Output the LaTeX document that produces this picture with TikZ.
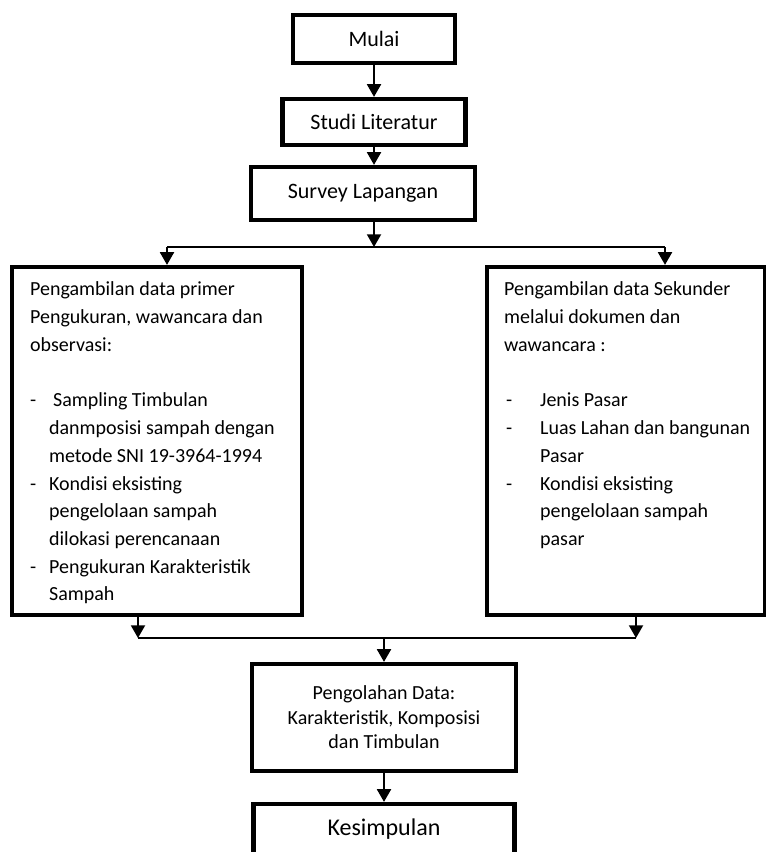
\documentclass[tikz,border=0pt]{standalone}
\usepackage{fontspec}
\setmainfont{Carlito}
\usetikzlibrary{arrows.meta, positioning}
\tikzset{
  stepbox/.style = {rectangle, draw=black, line width=3.2pt, inner sep=0pt, align=center, font=\fontsize{16.5pt}{19.8pt}\selectfont},
  databox/.style = {rectangle, draw=black, line width=3.2pt, inner sep=0pt},
  olahbox/.style = {rectangle, draw=black, line width=3.2pt, inner sep=0pt, align=center, font=\fontsize{15pt}{18.4pt}\selectfont},
  endbox/.style  = {rectangle, draw=black, line width=3.2pt, inner sep=0pt, align=center, font=\fontsize{18pt}{21.6pt}\selectfont},
  listtxt/.style = {inner sep=0pt, anchor=base west, align=flush left, text width=205pt, font=\fontsize{15pt}{20.8pt}\selectfont},
  flow/.style    = {-{Triangle[length=9.5pt, width=10.5pt]}, line width=1.4pt, black},
  link/.style    = {line width=1.4pt, black},
}
\newcommand{\listdash}[1]{\makebox[#1][l]{-}}
\newcommand{\listind}[1]{\hspace*{#1}}

\begin{document}
\begin{tikzpicture}[x=0.75pt, y=-0.75pt]
  \useasboundingbox (0,0) rectangle (765,852);
  \fill[white] (0,0) rectangle (765,852);

  % tahap awal
  \node[stepbox, minimum width=121.5pt, minimum height=36pt] (mulai) at (374,39) {Mulai};
  \node[stepbox, minimum width=137.25pt, minimum height=34.5pt] (studi) at (374,122) {Studi Literatur};
  \node[stepbox, minimum width=168pt, minimum height=39.75pt] (survey) at (363,193.5) {Survey Lapangan};

  \draw[flow] (mulai.south) -- (studi.north);
  \draw[flow] (studi.south) -- (studi.south |- survey.north);

  % percabangan data
  \coordinate (splitC) at (374,247);
  \coordinate (splitL) at (167,247);
  \coordinate (splitR) at (665,247);

  \node[databox, minimum width=217.5pt, minimum height=261pt] (primer) at (157,441) {};
  \node[databox, minimum width=208.5pt, minimum height=261pt] (sekunder) at (626,441) {};

  \node[listtxt] (primertxt) at ([xshift=15pt, yshift=-23.25pt]primer.north west)
    {Pengambilan data primer\\
     Pengukuran, wawancara dan\\
     observasi:\\[20.8pt]
     \listdash{14.25pt}\hspace*{3pt}Sampling Timbulan\\
     \listind{14.25pt}danmposisi sampah dengan\\
     \listind{14.25pt}metode SNI 19-3964-1994\\
     \listdash{14.25pt}Kondisi eksisting\\
     \listind{14.25pt}pengelolaan sampah\\
     \listind{14.25pt}dilokasi perencanaan\\
     \listdash{14.25pt}Pengukuran Karakteristik\\
     \listind{14.25pt}Sampah};

  \node[listtxt] (sekundertxt) at ([xshift=14.25pt, yshift=-23.25pt]sekunder.north west)
    {Pengambilan data Sekunder\\
     melalui dokumen dan\\
     wawancara :\\[20.8pt]
     \hspace*{1.5pt}\listdash{25.5pt}Jenis Pasar\\
     \hspace*{1.5pt}\listdash{25.5pt}Luas Lahan dan bangunan\\
     \listind{27pt}Pasar\\
     \hspace*{1.5pt}\listdash{25.5pt}Kondisi eksisting\\
     \listind{27pt}pengelolaan sampah\\
     \listind{27pt}pasar};

  \draw[flow] (survey.south -| splitC) -- (splitC);
  \draw[link] (splitL) -- (splitR);
  \draw[flow] (splitL) -- (splitL |- primer.north);
  \draw[flow] (splitR) -- (splitR |- sekunder.north);

  % penggabungan
  \coordinate (mergeC) at (384,638);
  \coordinate (mergeL) at (138,638);
  \coordinate (mergeR) at (636,638);

  \node[olahbox, minimum width=198pt, minimum height=80.25pt] (olah) at (384,717.5)
    {Pengolahan Data:\\ Karakteristik, Komposisi\\ dan Timbulan};
  \node[endbox, minimum width=195.75pt, minimum height=38.25pt] (simpul) at (384,829.5) {Kesimpulan};

  \draw[flow] (primer.south -| mergeL) -- (mergeL);
  \draw[flow] (sekunder.south -| mergeR) -- (mergeR);
  \draw[link] (mergeL) -- (mergeR);
  \draw[flow] (mergeC) -- (olah.north);
  \draw[flow] (olah.south) -- (simpul.north);
\end{tikzpicture}
\end{document}
